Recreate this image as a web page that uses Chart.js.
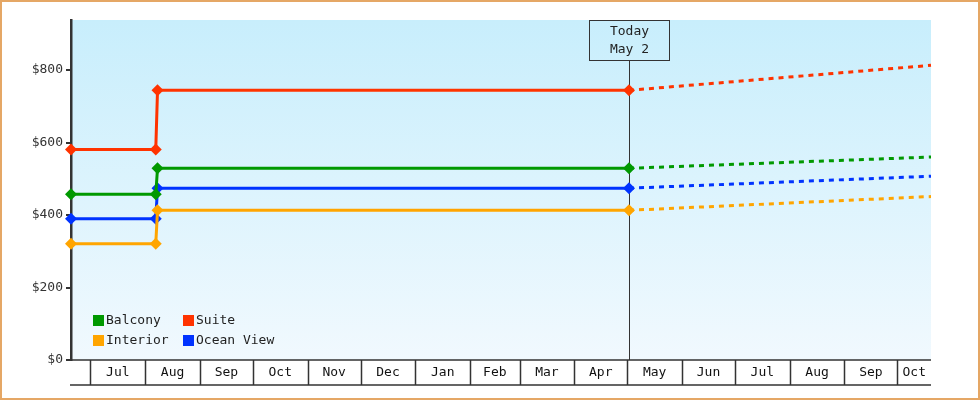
<!DOCTYPE html>
<html>
<head>
<meta charset="utf-8">
<script src="https://cdn.jsdelivr.net/npm/chart.js@4.4.0/dist/chart.umd.min.js"></script>
<style>
  body { margin: 0; background: #fff; }
  canvas { display: block; }
</style>
</head>
<body>
<canvas id="fareChart" width="980" height="400"></canvas>
<script>
// cabin categories and their colours
const categories = ['Balcony', 'Suite', 'Interior', 'Ocean View'];
const catColors = ['#009900', '#ff3300', '#ffa500', '#0033ff'];

// price history (dates of the changes)
const priceDates = ['2016-06-20', '2016-08-07', '2016-08-08', '2017-05-02'];
const balcony   = [457, 457, 529, 529];
const suite     = [581, 581, 744, 744];
const interior  = [321, 321, 413, 413];
const oceanView = [390, 390, 474, 474];

// projection from today to the end of the range
const forecastDates = ['2017-05-02', '2017-10-20'];
const balconyForecast   = [529, 560];
const suiteForecast     = [744, 813];
const interiorForecast  = [413, 451];
const oceanViewForecast = [474, 507];

// axes
const xStart = '2016-06-20';
const xEnd = '2017-10-20';
const monthStarts = ['2016-07-01', '2016-08-01', '2016-09-01', '2016-10-01', '2016-11-01', '2016-12-01',
  '2017-01-01', '2017-02-01', '2017-03-01', '2017-04-01', '2017-05-01', '2017-06-01',
  '2017-07-01', '2017-08-01', '2017-09-01', '2017-10-01'];
const monthLabels = ['Jul', 'Aug', 'Sep', 'Oct', 'Nov', 'Dec', 'Jan', 'Feb', 'Mar', 'Apr',
  'May', 'Jun', 'Jul', 'Aug', 'Sep', 'Oct'];
const yTicks = [0, 200, 400, 600, 800];
const yMax = 938;
const today = '2017-05-02';
const todayText = ['Today', 'May 2'];

const FONT = '"DejaVu Sans Mono", "Liberation Mono", monospace';
const INK = '#333';

function day(s) {
  return Date.parse(s + 'T00:00:00Z') / 864e5;
}
function points(dates, values) {
  return dates.map((d, i) => ({ x: day(d), y: values[i] }));
}

const history = [balcony, suite, interior, oceanView];
const forecast = [balconyForecast, suiteForecast, interiorForecast, oceanViewForecast];

const datasets = [];
categories.forEach((name, i) => {
  datasets.push({
    label: name,
    data: points(priceDates, history[i]),
    borderColor: catColors[i],
    backgroundColor: catColors[i],
    borderWidth: 3,
    pointStyle: 'rectRot',
    pointRadius: 6,
    pointBorderWidth: 0,
    clip: 8
  });
  datasets.push({
    label: name + ' forecast',
    data: points(forecastDates, forecast[i]),
    borderColor: catColors[i],
    borderWidth: 3,
    borderDash: [5, 5],
    pointRadius: 0,
    clip: 8
  });
});

const decorPlugin = {
  id: 'decor',
  beforeDraw(chart) {
    const { ctx, chartArea: a } = chart;
    ctx.save();
    // outer frame
    ctx.strokeStyle = '#e5a765';
    ctx.lineWidth = 2;
    ctx.strokeRect(1, 1, chart.width - 2, chart.height - 2);
    // plot background
    const g = ctx.createLinearGradient(0, a.top, 0, a.bottom);
    g.addColorStop(0, '#c8eefc');
    g.addColorStop(1, '#f1f9fe');
    ctx.fillStyle = g;
    ctx.fillRect(a.left, a.top, a.right - a.left, a.bottom - a.top);
    ctx.restore();
  },
  beforeDatasetsDraw(chart) {
    const { ctx, chartArea: a, scales: { x } } = chart;
    const tx = Math.round(x.getPixelForValue(day(today))) + 0.5;
    ctx.save();
    ctx.strokeStyle = INK;
    ctx.lineWidth = 1;
    ctx.beginPath();
    ctx.moveTo(tx, 60);
    ctx.lineTo(tx, a.bottom);
    ctx.stroke();
    ctx.restore();
  },
  afterDraw(chart) {
    const { ctx, chartArea: a, scales: { x } } = chart;
    ctx.save();
    // x axis line and month table
    ctx.strokeStyle = INK;
    ctx.lineWidth = 1.5;
    ctx.beginPath();
    ctx.moveTo(a.left, a.bottom);
    ctx.lineTo(a.right, a.bottom);
    ctx.moveTo(a.left - 1, a.bottom + 25);
    ctx.lineTo(a.right, a.bottom + 25);
    monthStarts.forEach(m => {
      const px = Math.round(x.getPixelForValue(day(m))) + 0.5;
      ctx.moveTo(px, a.bottom);
      ctx.lineTo(px, a.bottom + 25);
    });
    ctx.stroke();
    ctx.font = '13px ' + FONT;
    ctx.fillStyle = '#111';
    ctx.textAlign = 'center';
    ctx.textBaseline = 'middle';
    monthStarts.forEach((m, i) => {
      const x0 = x.getPixelForValue(day(m));
      const x1 = x.getPixelForValue(day(monthStarts[i + 1] || xEnd));
      if (x1 - x0 >= 30) ctx.fillText(monthLabels[i], (x0 + x1) / 2, a.bottom + 13);
    });

    // today label box
    const tx = Math.round(x.getPixelForValue(day(today))) + 0.5;
    ctx.strokeStyle = INK;
    ctx.lineWidth = 1;
    ctx.strokeRect(tx - 40, 20.5, 80, 40);
    ctx.fillStyle = '#222';
    ctx.fillText(todayText[0], tx, 32);
    ctx.fillText(todayText[1], tx, 50);

    // legend inside the plot, two columns
    const cols = [93, 183];
    const rows = [315, 335];
    ctx.textAlign = 'left';
    categories.forEach((name, i) => {
      const cx = cols[i % 2];
      const cy = rows[Math.floor(i / 2)];
      ctx.fillStyle = catColors[i];
      ctx.fillRect(cx, cy, 11, 11);
      ctx.fillStyle = '#222';
      ctx.fillText(name, cx + 13, cy + 6);
    });
    ctx.restore();
  }
};

new Chart(document.getElementById('fareChart'), {
  type: 'line',
  data: { datasets: datasets },
  options: {
    responsive: false,
    animation: false,
    layout: { padding: { top: 20, right: 49, bottom: 40, left: 0 } },
    plugins: {
      legend: { display: false },
      tooltip: { enabled: false }
    },
    scales: {
      x: {
        type: 'linear',
        display: false,
        min: day(xStart),
        max: day(xEnd)
      },
      y: {
        min: 0,
        max: yMax,
        afterFit(scale) { scale.width = 71; },
        afterBuildTicks(scale) { scale.ticks = yTicks.map(v => ({ value: v })); },
        border: { display: true, color: INK, width: 2.5 },
        grid: { drawOnChartArea: false, color: INK, lineWidth: 2, tickLength: 5 },
        ticks: {
          padding: 3,
          color: '#333',
          font: { family: FONT, size: 13 },
          callback: v => '$' + v
        }
      }
    }
  },
  plugins: [decorPlugin]
});
</script>
</body>
</html>
